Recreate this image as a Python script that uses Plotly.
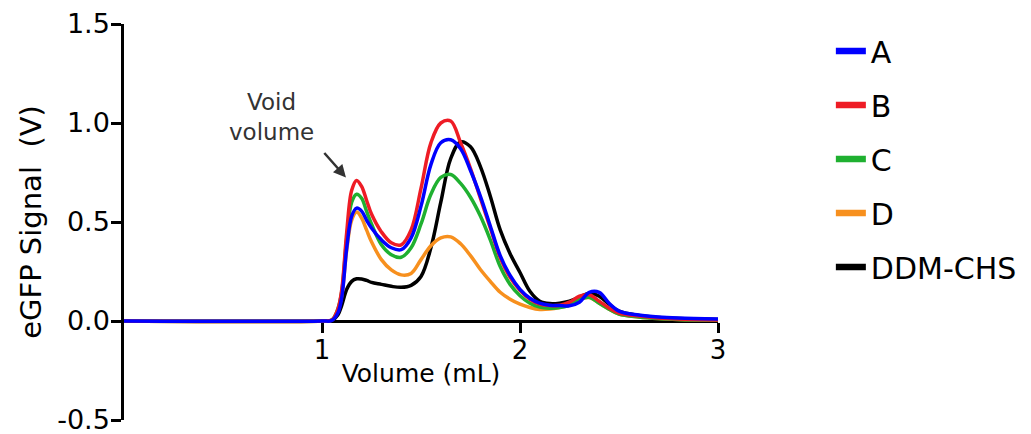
import plotly.graph_objects as go

volume = [0, 1.0, 1.05, 1.08, 1.1, 1.125, 1.15, 1.175, 1.2, 1.225, 1.25, 1.3, 1.35, 1.4, 1.45,
          1.5, 1.55, 1.6, 1.65, 1.7, 1.75, 1.8, 1.85, 1.9, 1.95, 2.0, 2.05, 2.1, 2.15, 2.2,
          2.25, 2.3, 2.35, 2.4, 2.45, 2.5, 2.6, 2.7, 2.8, 3.0]

sig_A = [0, 0, 0.003, 0.04, 0.12, 0.37, 0.53, 0.57, 0.555, 0.51, 0.47, 0.41, 0.37, 0.36, 0.42,
         0.58, 0.79, 0.9, 0.915, 0.87, 0.76, 0.63, 0.48, 0.33, 0.23, 0.16, 0.115, 0.09, 0.08, 0.078,
         0.077, 0.095, 0.145, 0.145, 0.09, 0.05, 0.03, 0.02, 0.015, 0.01]
sig_B = [0, 0, 0.005, 0.06, 0.16, 0.45, 0.66, 0.71, 0.68, 0.61, 0.54, 0.45, 0.395, 0.385, 0.46,
         0.67, 0.9, 1.0, 1.01, 0.9, 0.77, 0.62, 0.47, 0.32, 0.22, 0.155, 0.11, 0.085, 0.078, 0.08,
         0.095, 0.125, 0.133, 0.1, 0.065, 0.04, 0.025, 0.015, 0.01, 0.005]
sig_C = [0, 0, 0.005, 0.06, 0.15, 0.42, 0.6, 0.64, 0.62, 0.555, 0.49, 0.385, 0.335, 0.322, 0.37,
         0.49, 0.64, 0.725, 0.74, 0.695, 0.625, 0.53, 0.41, 0.275, 0.185, 0.128, 0.09, 0.07, 0.065, 0.068,
         0.08, 0.11, 0.12, 0.09, 0.06, 0.035, 0.02, 0.012, 0.008, 0.005]
sig_D = [0, 0, 0.005, 0.05, 0.13, 0.36, 0.51, 0.55, 0.52, 0.46, 0.40, 0.31, 0.258, 0.233, 0.24,
         0.31, 0.38, 0.42, 0.425, 0.39, 0.33, 0.26, 0.2, 0.145, 0.11, 0.085, 0.068, 0.058, 0.06, 0.068,
         0.08, 0.11, 0.118, 0.09, 0.06, 0.035, 0.02, 0.012, 0.008, 0.005]
sig_DDM = [0, 0, 0.003, 0.03, 0.08, 0.16, 0.2, 0.213, 0.212, 0.205, 0.195, 0.185, 0.175, 0.17, 0.18,
           0.225, 0.37, 0.6, 0.82, 0.905, 0.88, 0.78, 0.63, 0.46, 0.34, 0.245, 0.15, 0.1, 0.088, 0.09,
           0.1, 0.12, 0.14, 0.125, 0.085, 0.05, 0.028, 0.018, 0.012, 0.008]

names = ["A", "B", "C", "D", "DDM-CHS"]
series = [sig_A, sig_B, sig_C, sig_D, sig_DDM]
colors = ["#0000FF", "#EE1C25", "#1FB030", "#F7901E", "#000000"]

y_ticks = [-0.5, 0.0, 0.5, 1.0, 1.5]
y_tick_text = ["-0.5", "0.0", "0.5", "1.0", "1.5"]
x_ticks = [1, 2, 3]

FONT = "DejaVu Sans, Liberation Sans, Arial, sans-serif"

fig = go.Figure()
# data traces: DDM-CHS drawn first, A last (on top)
for i in reversed(range(len(names))):
    fig.add_trace(go.Scatter(
        x=volume, y=series[i], name=names[i], mode="lines",
        line=dict(color=colors[i], width=3.5, shape="spline", smoothing=1.0),
        showlegend=False,
    ))
# legend entries (thicker sample lines, no data)
for i in range(len(names)):
    fig.add_trace(go.Scatter(
        x=[None], y=[None], name=names[i], mode="lines",
        line=dict(color=colors[i], width=6.5),
        legendrank=i + 1, legendgroup=names[i], hoverinfo="skip",
    ))

fig.update_layout(
    width=1031, height=434,
    margin=dict(l=124, r=313, t=24, b=14, autoexpand=False),
    paper_bgcolor="white", plot_bgcolor="white",
    font=dict(family=FONT, color="#000000", size=26),
    showlegend=True,
    legend=dict(x=1.19, xanchor="left", y=0.659, yanchor="middle",
                font=dict(size=30, family=FONT), tracegroupgap=12,
                bgcolor="rgba(0,0,0,0)", traceorder="grouped"),
    xaxis=dict(range=[0, 3], tickvals=x_ticks, showline=True, linecolor="black", linewidth=2.5,
               ticks="outside", ticklen=10, tickwidth=2.5, tickcolor="black",
               showgrid=False, zeroline=False, anchor="free", position=0.25,
               layer="below traces", ticklabelstandoff=-5, automargin=False,
               title=dict(text="Volume (mL)", standoff=0, font=dict(size=25)),
               tickfont=dict(size=26)),
    yaxis=dict(range=[-0.5, 1.5], tickvals=y_ticks, ticktext=y_tick_text, showline=True,
               linecolor="black", linewidth=2.5, ticks="outside", ticklen=10, tickwidth=2.5,
               tickcolor="black", showgrid=False, zeroline=False, layer="below traces",
               ticklabeloverflow="allow", ticklabelstandoff=-4, automargin=False,
               title=dict(text="eGFP Signal\u00a0\u00a0(V)", standoff=8, font=dict(size=29)),
               tickfont=dict(size=27)),
)

fig.add_annotation(x=0.747, y=1.03, xref="x", yref="y", text="Void<br>volume",
                   showarrow=False, font=dict(size=23, color="#333333", family=FONT))
fig.add_annotation(x=1.121, y=0.725, xref="x", yref="y", ax=1.005, ay=0.856,
                   axref="x", ayref="y", text="", showarrow=True, arrowhead=2,
                   arrowsize=1, arrowwidth=2.5, arrowcolor="#333333")

fig.write_html("out.html", config={"displayModeBar": False},
               post_script="document.body.style.margin='0';document.body.style.overflow='hidden';")
